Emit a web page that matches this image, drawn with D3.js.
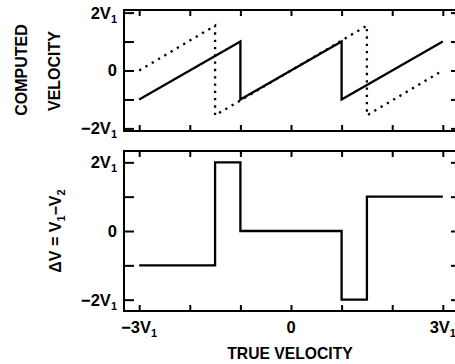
<!DOCTYPE html>
<html>
<head>
<meta charset="utf-8">
<script src="https://cdn.jsdelivr.net/npm/d3@7"></script>
<style>
  html, body { margin: 0; padding: 0; background: #fff; }
  svg { display: block; }
  text { font-family: "Liberation Sans", Arial, Helvetica, sans-serif; font-weight: bold; fill: #000; }
</style>
</head>
<body>
<svg id="chart" width="455" height="364"></svg>
<script>
// ---- data ----
const xTicks = [-3, -2, -1, 0, 1, 2, 3];
const xLabelValues = [-3, 0, 3];
const xLabelMain = ["\u22123V", "0", "3V"];
const xLabelSub = ["1", "", "1"];

const yTicks = [-2, -1, 0, 1, 2];
const yLabelValues = [2, 0, -2];
const yLabelMain = ["2V", "0", "\u22122V"];
const yLabelSub = ["1", "", "1"];

// top panel: computed velocity (solid = V1, dotted = V2)
const solidX = [-3, -1, -1, 1, 1, 3];
const solidY = [-1, 1, -1, 1, -1, 1];
const dottedX = [-3, -1.5, -1.5, 1.5, 1.5, 3];
const dottedY = [0, 1.55, -1.55, 1.55, -1.55, 0];

// bottom panel: ΔV = V1 - V2
const diffX = [-3, -1.5, -1.5, -1, -1, 1, 1, 1.5, 1.5, 3];
const diffY = [-1, -1, 2, 2, 0, 0, -2, -2, 1, 1];

// ---- layout ----
const svg = d3.select("#chart");
const x = d3.scaleLinear().domain([-3.3, 3.3]).range([124, 458]);
const yTop = d3.scaleLinear().domain([-2.09, 2.09]).range([131, 10]);
const yBot = d3.scaleLinear().domain([-2.33, 2.33]).range([311, 151]);

function panel(y, showXLabels) {
  const g = svg.append("g");
  const [y0, y1] = y.range(); // bottom, top
  const [x0, x1] = x.range();

  g.append("g").attr("transform", `translate(${x0},0)`)
    .call(d3.axisLeft(y).tickValues(yTicks).tickSizeInner(-10).tickSizeOuter(0).tickFormat(""));
  g.append("g").attr("transform", `translate(${x1},0)`)
    .call(d3.axisRight(y).tickValues(yTicks).tickSizeInner(-7).tickSizeOuter(0).tickFormat(""));
  g.append("g").attr("transform", `translate(0,${y1})`)
    .call(d3.axisTop(x).tickValues(xTicks).tickSizeInner(-6).tickSizeOuter(0).tickFormat(""));
  g.append("g").attr("transform", `translate(0,${y0})`)
    .call(d3.axisBottom(x).tickValues(xTicks).tickSizeInner(-6).tickSizeOuter(0).tickFormat(""));

  g.selectAll(".domain").remove();
  g.selectAll(".tick line").attr("stroke", "#000").attr("stroke-width", 2);

  yLabelValues.forEach((v, i) => {
    const t = g.append("text")
      .attr("x", x0 - 7).attr("y", y(v)).attr("dy", "0.36em")
      .attr("text-anchor", "end").style("font-size", "16.5px");
    t.append("tspan").text(yLabelMain[i]);
    if (yLabelSub[i]) t.append("tspan").attr("dy", "4").style("font-size", "11px").text(yLabelSub[i]);
  });

  if (showXLabels) {
    xLabelValues.forEach((v, i) => {
      const t = g.append("text")
        .attr("x", x(v)).attr("y", y0 + 22)
        .attr("text-anchor", "middle").style("font-size", "16.5px");
      t.append("tspan").text(xLabelMain[i]);
      if (xLabelSub[i]) t.append("tspan").attr("dy", "4").style("font-size", "11px").text(xLabelSub[i]);
    });
  }

  g.append("rect").attr("x", x0).attr("y", y1).attr("width", x1 - x0).attr("height", y0 - y1)
    .attr("fill", "none").attr("stroke", "#000").attr("stroke-width", 2);
  return g;
}

const gTop = panel(yTop, false);
const gBot = panel(yBot, true);

const lineTop = d3.line().x(d => x(d[0])).y(d => yTop(d[1]));
const lineBot = d3.line().x(d => x(d[0])).y(d => yBot(d[1]));

gTop.append("path").datum(dottedX.map((v, i) => [v, dottedY[i]]))
  .attr("d", lineTop).attr("fill", "none").attr("stroke", "#000")
  .attr("stroke-width", 2.3).attr("stroke-dasharray", "2.3,5");
gTop.append("path").datum(solidX.map((v, i) => [v, solidY[i]]))
  .attr("d", lineTop).attr("fill", "none").attr("stroke", "#000").attr("stroke-width", 2.3);

gBot.append("path").datum(diffX.map((v, i) => [v, diffY[i]]))
  .attr("d", lineBot).attr("fill", "none").attr("stroke", "#000").attr("stroke-width", 2.3);

function vtext(cx, cy, parts, size) {
  const t = svg.append("text").attr("transform", `translate(${cx},${cy}) rotate(-90)`)
    .attr("text-anchor", "middle").attr("dy", "0.36em").style("font-size", size + "px");
  parts.forEach(p => {
    const s = t.append("tspan").text(p[0]);
    if (p[1]) s.attr("dy", p[1]);
    if (p[2]) s.style("font-size", p[2] + "px");
  });
}
vtext(21, 70, [["COMPUTED"]], 16);
vtext(54, 71, [["VELOCITY"]], 16);
vtext(55, 231, [["\u0394V = V"], ["1", 4, 11], ["\u2212V", -4], ["2", 4, 11]], 16);

svg.append("text").attr("x", 290).attr("y", 359).attr("text-anchor", "middle")
  .style("font-size", "15.7px").text("TRUE VELOCITY");
</script>
</body>
</html>
